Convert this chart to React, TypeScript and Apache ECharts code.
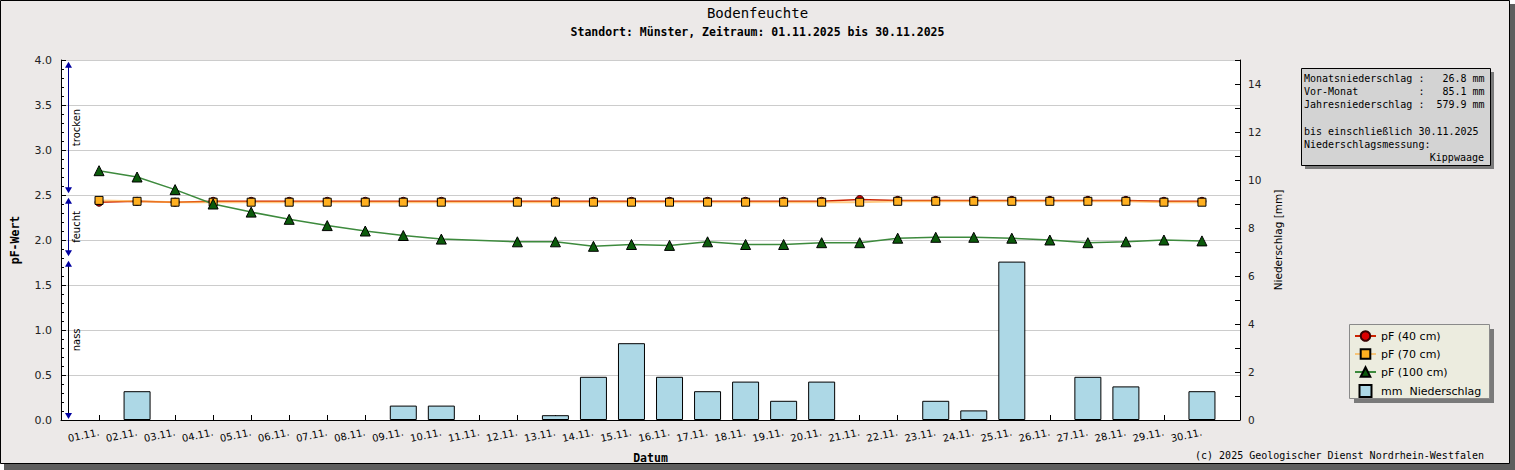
import React, { useEffect, useRef } from "react";
import * as echarts from "echarts";

const days = [
  "01.11.", "02.11.", "03.11.", "04.11.", "05.11.", "06.11.", "07.11.", "08.11.", "09.11.", "10.11.",
  "11.11.", "12.11.", "13.11.", "14.11.", "15.11.", "16.11.", "17.11.", "18.11.", "19.11.", "20.11.",
  "21.11.", "22.11.", "23.11.", "24.11.", "25.11.", "26.11.", "27.11.", "28.11.", "29.11.", "30.11.",
];

const pF40 = [
  2.42, 2.43, 2.42, 2.43, 2.43, 2.43, 2.43, 2.43, 2.43, 2.43,
  null, 2.43, 2.43, 2.43, 2.43, 2.43, 2.43, 2.43, 2.43, 2.43,
  2.45, 2.44, 2.44, 2.44, 2.44, 2.44, 2.44, 2.44, 2.43, 2.43,
];

const pF70 = [
  2.44, 2.43, 2.42, 2.42, 2.42, 2.42, 2.42, 2.42, 2.42, 2.42,
  null, 2.42, 2.42, 2.42, 2.42, 2.42, 2.42, 2.42, 2.42, 2.42,
  2.42, 2.43, 2.43, 2.43, 2.43, 2.43, 2.43, 2.43, 2.42, 2.42,
];

const pF100 = [
  2.77, 2.70, 2.56, 2.40, 2.31, 2.23, 2.16, 2.10, 2.05, 2.01,
  null, 1.98, 1.98, 1.93, 1.95, 1.94, 1.98, 1.95, 1.95, 1.97,
  1.97, 2.02, 2.03, 2.03, 2.02, 2.00, 1.97, 1.98, 2.00, 1.99,
];

const precip = [
  0, 1.2, 0, 0, 0, 0, 0, 0, 0.6, 0.6,
  0, 0, 0.2, 1.8, 3.2, 1.8, 1.2, 1.6, 0.8, 1.6,
  0, 0, 0.8, 0.4, 6.6, 0, 1.8, 1.4, 0, 1.2,
];

const zoneNames = ["trocken", "feucht", "nass"];
const zoneFrom = [3.98, 2.47, 1.77];
const zoneTo = [2.52, 1.82, 0.01];
const zoneLineColors = ["#00008b", "#00008b", "#000000"];

const infoLines = [
  "Monatsniederschlag :   26.8 mm",
  "Vor-Monat          :   85.1 mm",
  "Jahresniederschlag :  579.9 mm",
  "",
  "bis einschließlich 30.11.2025",
  "Niederschlagsmessung:",
];
const infoRight = "Kippwaage";

const seriesNames = ["pF (40 cm)", "pF (70 cm)", "pF (100 cm)", "mm  Niederschlag"];

const MONO = "DejaVu Sans Mono";
const SANS = "DejaVu Sans";

const toXY = (arr: (number | null)[]) => arr.map((v, i) => [i + 1, v]);

export default function App() {
  const ref = useRef<HTMLDivElement>(null);

  useEffect(() => {
    if (!ref.current) return;
    const chart = echarts.init(ref.current, undefined, { renderer: "svg" });

    const infoGraphics: any[] = infoLines.map((t, i) => ({
      type: "text",
      z: 6,
      x: 1304,
      y: 78 + i * 13.3,
      style: { text: t, fontFamily: MONO, fontSize: 10, fill: "#000", verticalAlign: "middle", align: "left" },
    }));
    infoGraphics.push({
      type: "text",
      z: 6,
      x: 1484,
      y: 78 + 6 * 13.3,
      style: { text: infoRight, fontFamily: MONO, fontSize: 10, fill: "#000", verticalAlign: "middle", align: "right" },
    });

    const option: any = {
      animation: false,
      backgroundColor: "#ffffff",
      title: {
        text: "Bodenfeuchte",
        subtext: "Standort: Münster, Zeitraum: 01.11.2025 bis 30.11.2025",
        left: "center",
        top: 6,
        itemGap: 6,
        padding: 0,
        textStyle: { fontFamily: MONO, fontSize: 14, fontWeight: "normal", color: "#000" },
        subtextStyle: { fontFamily: MONO, fontSize: 11.5, fontWeight: "bold", color: "#000" },
      },
      graphic: [
        { type: "rect", z: -2, shape: { x: 4, y: 4, width: 1511, height: 466 }, style: { fill: "#5e5e5e" } },
        {
          type: "rect",
          z: -1,
          shape: { x: 0.5, y: 0.5, width: 1509, height: 463 },
          style: { fill: "#ece9e8", stroke: "#000", lineWidth: 1 },
        },
        { type: "rect", z: 5, shape: { x: 1305, y: 72, width: 189, height: 97 }, style: { fill: "#7a7a7a" } },
        {
          type: "rect",
          z: 5,
          shape: { x: 1301.5, y: 68.5, width: 189, height: 97 },
          style: { fill: "#d3d3d3", stroke: "#000", lineWidth: 1 },
        },
        ...infoGraphics,
        { type: "rect", z: 3, shape: { x: 1354, y: 329, width: 140, height: 74 }, style: { fill: "#7a7a7a" } },
        {
          type: "rect",
          z: 3,
          shape: { x: 1349.5, y: 324.5, width: 140, height: 74 },
          style: { fill: "#ececdf", stroke: "#8a8a8a", lineWidth: 1 },
        },
        {
          type: "text",
          z: 6,
          x: 1484,
          y: 455,
          style: {
            text: "(c) 2025 Geologischer Dienst Nordrhein-Westfalen",
            fontFamily: MONO,
            fontSize: 10,
            fill: "#000",
            align: "right",
            verticalAlign: "middle",
          },
        },
      ],
      legend: {
        orient: "vertical",
        left: 1354,
        top: 330,
        itemWidth: 21,
        itemHeight: 12,
        itemGap: 6,
        padding: 0,
        z: 6,
        textStyle: { fontFamily: SANS, fontSize: 11, color: "#000", lineHeight: 12 },
        data: [
          seriesNames[0],
          seriesNames[1],
          seriesNames[2],
          { name: seriesNames[3], icon: "path://M0,0L10,0L10,10L0,10Z" },
        ],
      },
      grid: {
        left: 61,
        right: 275,
        top: 60,
        bottom: 50,
        show: true,
        backgroundColor: "#ffffff",
        borderWidth: 0,
      },
      xAxis: {
        type: "value",
        min: 0,
        max: 31,
        interval: 1,
        name: "Datum",
        nameLocation: "middle",
        nameGap: 32,
        nameTextStyle: { fontFamily: MONO, fontSize: 11.5, fontWeight: "bold", color: "#000" },
        axisLine: { show: true, lineStyle: { color: "#000", width: 1 } },
        axisTick: { show: true, inside: true, length: 5, lineStyle: { color: "#000" } },
        splitLine: { show: false },
        axisLabel: {
          rotate: 12,
          margin: 12,
          fontFamily: SANS,
          fontSize: 10,
          color: "#000",
          showMinLabel: false,
          showMaxLabel: false,
          formatter: (v: number) => days[v - 1] ?? "",
        },
      },
      yAxis: [
        {
          type: "value",
          min: 0,
          max: 4,
          interval: 0.5,
          position: "left",
          name: "pF-Wert",
          nameLocation: "middle",
          nameGap: 40,
          nameTextStyle: { fontFamily: MONO, fontSize: 11.5, fontWeight: "bold", color: "#000" },
          axisLine: { show: true, lineStyle: { color: "#000", width: 1 } },
          axisTick: { show: true, inside: true, length: 5, lineStyle: { color: "#000" } },
          minorTick: { show: true, splitNumber: 5, length: 3, lineStyle: { color: "#000" } },
          splitLine: { show: true, lineStyle: { color: "#cccccc", width: 1 } },
          axisLabel: {
            margin: 9,
            fontFamily: SANS,
            fontSize: 11,
            color: "#222",
            formatter: (v: number) => v.toFixed(1),
          },
        },
        {
          type: "value",
          min: 0,
          max: 15,
          interval: 1,
          position: "right",
          name: "Niederschlag [mm]",
          nameLocation: "middle",
          nameGap: 31,
          nameTextStyle: { fontFamily: SANS, fontSize: 10.5, color: "#000" },
          axisLine: { show: true, lineStyle: { color: "#000", width: 1 } },
          axisTick: { show: true, inside: true, length: 5, lineStyle: { color: "#000" } },
          splitLine: { show: false },
          axisLabel: {
            margin: 8,
            fontFamily: SANS,
            fontSize: 10.5,
            color: "#222",
            formatter: (v: number) => (v % 2 === 0 && v < 15 ? String(v) : ""),
          },
        },
      ],
      series: [
        {
          name: seriesNames[3],
          type: "bar",
          yAxisIndex: 1,
          barWidth: 27,
          data: precip.map((v, i) => [i + 1, v > 0 ? v : null]),
          itemStyle: { color: "#add8e6", borderColor: "#000", borderWidth: 1 },
        },
        {
          name: seriesNames[0],
          type: "line",
          yAxisIndex: 0,
          data: toXY(pF40),
          connectNulls: true,
          symbol: "circle",
          symbolSize: 8,
          lineStyle: { color: "#cc2200", width: 1.5 },
          itemStyle: { color: "#dd0000", borderColor: "#3a0000", borderWidth: 1 },
        },
        {
          name: seriesNames[1],
          type: "line",
          yAxisIndex: 0,
          data: toXY(pF70),
          connectNulls: true,
          symbol: "rect",
          symbolSize: 8,
          lineStyle: { color: "#ffaa33", width: 2, opacity: 0.6 },
          itemStyle: { color: "#ffb020", borderColor: "#000", borderWidth: 1 },
        },
        {
          name: seriesNames[2],
          type: "line",
          yAxisIndex: 0,
          data: toXY(pF100),
          connectNulls: true,
          symbol: "triangle",
          symbolSize: 10,
          lineStyle: { color: "#3d8a3d", width: 1.5 },
          itemStyle: { color: "#0b5a0b", borderColor: "#000", borderWidth: 1 },
        },
        {
          name: "zones",
          type: "custom",
          yAxisIndex: 0,
          silent: true,
          clip: false,
          z: 5,
          encode: { x: 0, y: [1, 2] },
          data: zoneNames.map((_, i) => [0.18, zoneFrom[i], zoneTo[i], i]),
          renderItem: (_params: any, api: any) => {
            const x = api.value(0);
            const idx = api.value(3);
            const p1 = api.coord([x, api.value(1)]);
            const p2 = api.coord([x, api.value(2)]);
            const px = Math.round(p1[0]) + 0.5;
            const ah = 6;
            const aw = 3.5;
            const blue = "#0000a0";
            return {
              type: "group",
              children: [
                {
                  type: "line",
                  shape: { x1: px, y1: p1[1] + 2, x2: px, y2: p2[1] - 2 },
                  style: { stroke: zoneLineColors[idx], lineWidth: 1 },
                },
                {
                  type: "polygon",
                  shape: { points: [[px, p1[1]], [px - aw, p1[1] + ah], [px + aw, p1[1] + ah]] },
                  style: { fill: blue },
                },
                {
                  type: "polygon",
                  shape: { points: [[px, p2[1]], [px - aw, p2[1] - ah], [px + aw, p2[1] - ah]] },
                  style: { fill: blue },
                },
                {
                  type: "text",
                  x: px + 3,
                  y: (p1[1] + p2[1]) / 2,
                  rotation: Math.PI / 2,
                  style: {
                    text: zoneNames[idx],
                    fontFamily: SANS,
                    fontSize: 10,
                    fill: "#000",
                    align: "center",
                    verticalAlign: "top",
                  },
                },
              ],
            };
          },
        },
      ],
    };

    chart.setOption(option);
    return () => chart.dispose();
  }, []);

  return (
    <div
      ref={ref}
      style={{ position: "absolute", left: 0, top: 0, width: 1515, height: 470 }}
    />
  );
}
